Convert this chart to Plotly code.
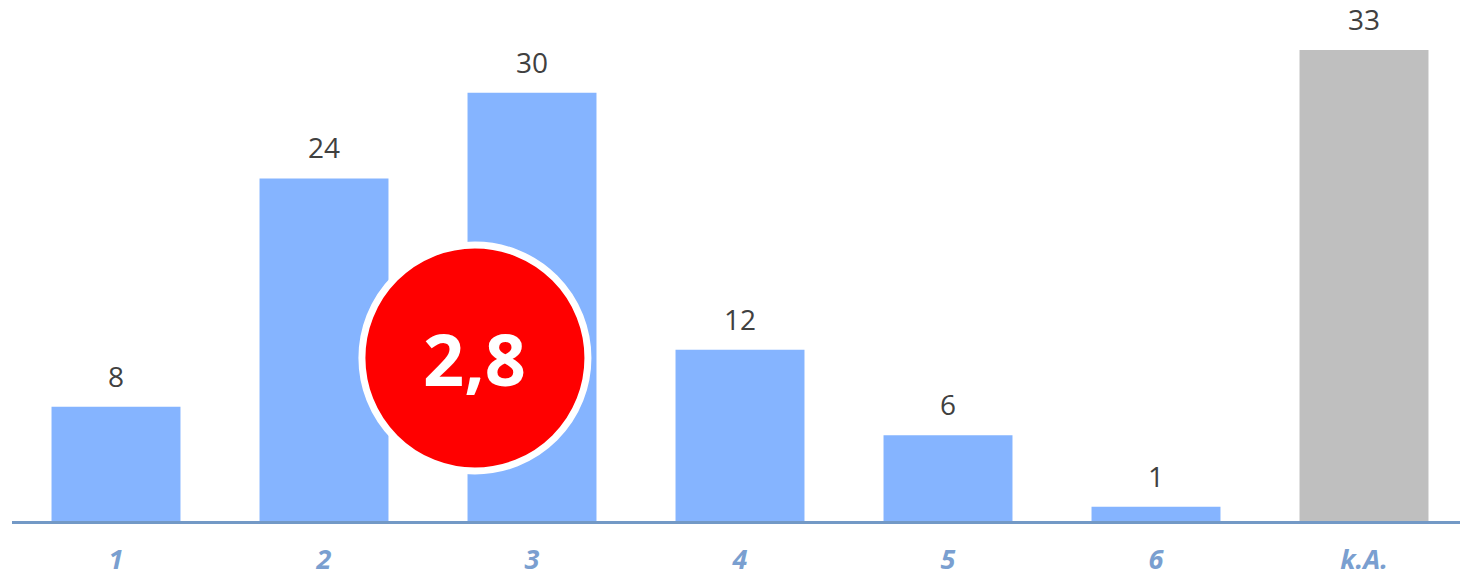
import plotly.graph_objects as go

categories = ["1", "2", "3", "4", "5", "6", "k.A."]
values = [8, 24, 30, 12, 6, 1, 33]
bar_colors = ["#85B4FF"] * 6 + ["#BFBFBF"]
average_label = "2,8"

fig = go.Figure()
fig.add_trace(go.Bar(
    x=list(range(len(categories))), y=values,
    marker=dict(color=bar_colors, line=dict(width=0)),
    width=0.62, hoverinfo="skip",
))

for i, v in enumerate(values):
    fig.add_annotation(x=i, y=v, text=str(v), showarrow=False,
                       yanchor="bottom", yshift=10,
                       font=dict(family="Open Sans", size=28, color="#404040"))

cx, cy = 0.3197, 0.3129
fig.add_shape(type="circle", xref="paper", yref="paper",
              xsizemode="pixel", ysizemode="pixel",
              xanchor=cx, yanchor=cy, x0=-113, x1=113, y0=-113, y1=113,
              fillcolor="#FF0000", line=dict(color="white", width=7), layer="above")
fig.add_annotation(xref="paper", yref="paper", x=cx, y=cy, text="<b>%s</b>" % average_label,
                   showarrow=False, xanchor="center", yanchor="middle",
                   font=dict(family="Open Sans", size=72, color="white"))

fig.update_layout(
    width=1460, height=574,
    margin=dict(l=12, r=0, t=0, b=53, autoexpand=False),
    paper_bgcolor="white", plot_bgcolor="white",
    showlegend=False,
    xaxis=dict(
        range=[-0.5, -0.5 + 1448 / 208],
        tickmode="array", tickvals=list(range(len(categories))),
        ticktext=["<b><i>%s</i></b>" % c for c in categories],
        tickfont=dict(family="Open Sans", size=27, color="#7A9FD0"),
        showline=True, linecolor="#7399C6", linewidth=3,
        showgrid=False, zeroline=False, ticks="", ticklabelstandoff=13,
        automargin=False,
    ),
    yaxis=dict(range=[0, 36.5], visible=False, showgrid=False, zeroline=False,
               automargin=False),
)

fig.write_html("out.html", config={"displayModeBar": False},
               post_script="document.body.style.margin='0';document.body.style.overflow='hidden';")
